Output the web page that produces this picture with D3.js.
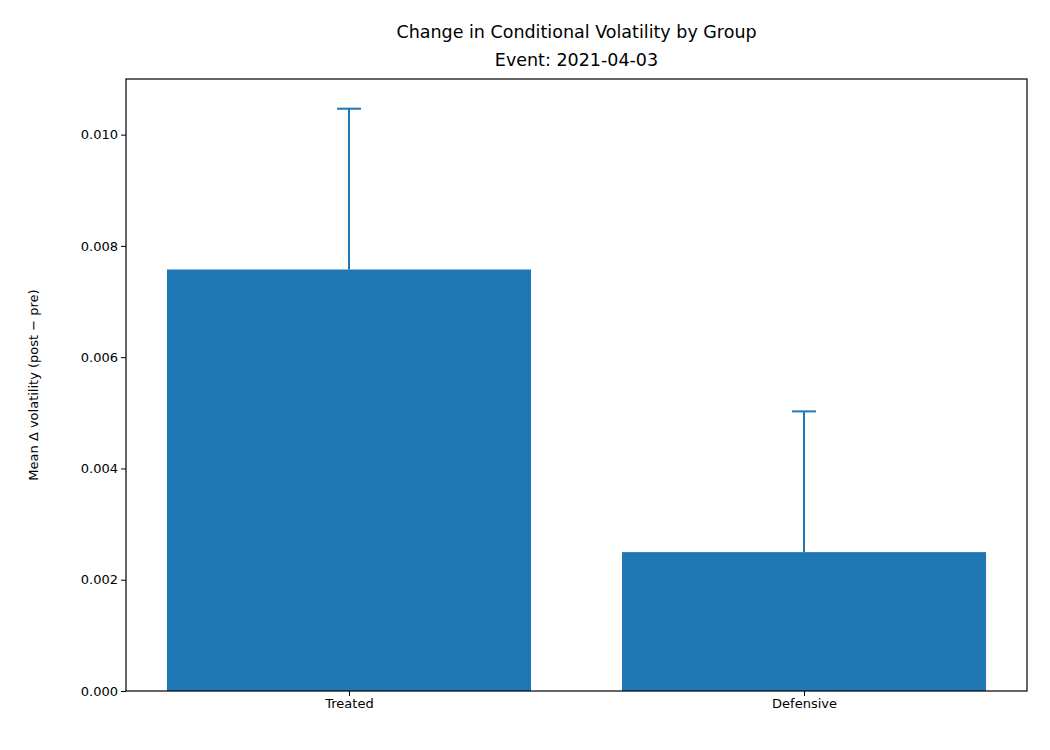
<!DOCTYPE html>
<html><head><meta charset="utf-8">
<script src="https://cdn.jsdelivr.net/npm/d3@7"></script>
<style>body{margin:0;background:#fff;font-family:"DejaVu Sans",sans-serif;}</style>
</head><body><div class="chart"></div>
<script>
const groups = ["Treated", "Defensive"];
const means = [0.007576, 0.002496];
const errors = [0.00289, 0.00253];
const yTicks = [0, 0.002, 0.004, 0.006, 0.008, 0.010];

const margin = { left: 126, right: 23, top: 79, bottom: 59 };
const width = 1050 - margin.left - margin.right,
    height = 750 - margin.top - margin.bottom;

const svg = d3.select(".chart").append("svg")
    .attr("width", 1050).attr("height", 750)
    .style("font-family", "DejaVu Sans");

const g = svg.append("g")
    .attr("transform", `translate(${margin.left},${margin.top})`);

const xScale = d3.scaleLinear().domain([-0.49, 1.49]).range([0, width]);
const yScale = d3.scaleLinear().domain([0, 0.011]).range([height, 0]);

const bw = xScale(0.4) - xScale(-0.4);

g.selectAll("rect.bar").data(groups).enter().append("rect")
    .attr("x", (d, i) => xScale(i) - bw / 2)
    .attr("width", bw)
    .attr("y", (d, i) => yScale(means[i]))
    .attr("height", (d, i) => height - yScale(means[i]))
    .attr("fill", "#1f77b4");

const eb = g.selectAll("g.err").data(groups).enter().append("g")
    .attr("stroke", "#1f77b4").attr("stroke-width", 2);
eb.append("line")
    .attr("x1", (d, i) => xScale(i)).attr("x2", (d, i) => xScale(i))
    .attr("y1", (d, i) => yScale(means[i])).attr("y2", (d, i) => yScale(means[i] + errors[i]));
eb.append("line")
    .attr("x1", (d, i) => xScale(i) - 12).attr("x2", (d, i) => xScale(i) + 12)
    .attr("y1", (d, i) => yScale(means[i] + errors[i])).attr("y2", (d, i) => yScale(means[i] + errors[i]));

const yAxis = d3.axisLeft(yScale).tickValues(yTicks).tickFormat(d3.format(".3f")).tickSizeOuter(0).tickSize(5);
g.append("g").call(yAxis)
    .call(a => a.select(".domain").remove())
    .selectAll("text").attr("font-size", 13).attr("fill", "#000").attr("font-family", "DejaVu Sans");

const xAxis = d3.axisBottom(xScale).tickValues([0, 1]).tickFormat(i => groups[i]).tickSize(5);
g.append("g").attr("transform", `translate(0,${height})`).call(xAxis)
    .call(a => a.select(".domain").remove())
    .selectAll("text").attr("font-size", 13).attr("fill", "#000").attr("font-family", "DejaVu Sans");

g.append("rect").attr("width", width).attr("height", height)
    .attr("fill", "none").attr("stroke", "#000").attr("stroke-width", 1.2);

svg.append("text").attr("x", margin.left + width / 2).attr("y", 38)
    .attr("text-anchor", "middle").attr("font-size", 17.5)
    .text("Change in Conditional Volatility by Group");
svg.append("text").attr("x", margin.left + width / 2).attr("y", 66)
    .attr("text-anchor", "middle").attr("font-size", 17.5)
    .text("Event: 2021-04-03");

svg.append("text")
    .attr("transform", `translate(38,${margin.top + height / 2}) rotate(-90)`)
    .attr("text-anchor", "middle").attr("font-size", 13)
    .text("Mean Δ volatility (post − pre)");
</script></body></html>
